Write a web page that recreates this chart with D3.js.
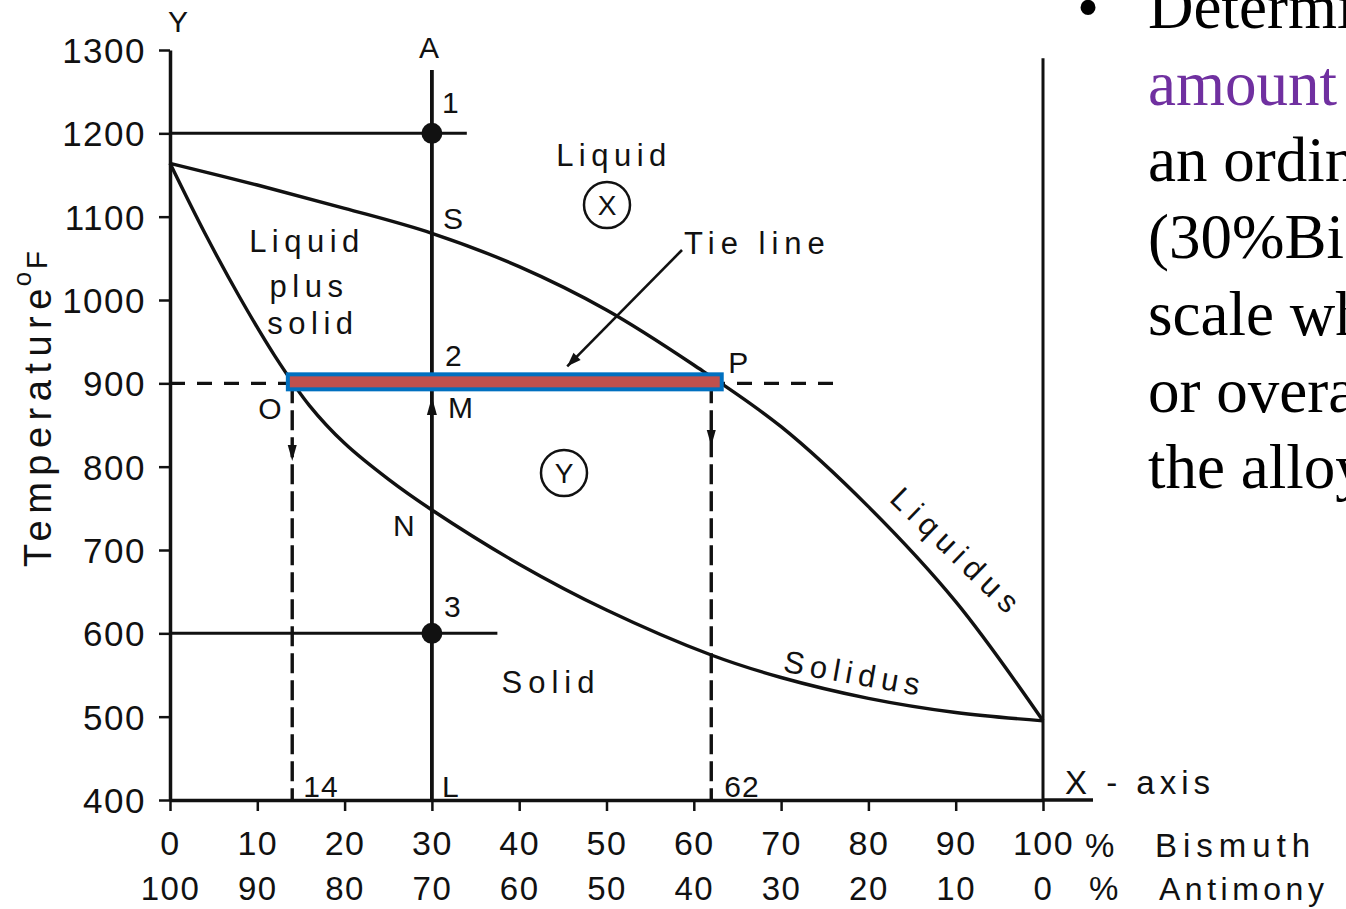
<!DOCTYPE html>
<html>
<head>
<meta charset="utf-8">
<script src="https://cdn.jsdelivr.net/npm/d3@7"></script>
<style>
  html, body { margin: 0; padding: 0; background: #fff; overflow: hidden; }
  svg { display: block; }
  .lbl { font-family: "Liberation Sans", Arial, sans-serif; fill: #111; }
  .side { font-family: "Liberation Serif", "Times New Roman", serif; font-size: 63px; fill: #000; }
</style>
</head>
<body>
<svg id="chart" width="1346" height="909"></svg>
<script>
// ---------------- data ----------------
const pctTicks = [0, 10, 20, 30, 40, 50, 60, 70, 80, 90, 100];
const bismuthLabels = ["0", "10", "20", "30", "40", "50", "60", "70", "80", "90", "100"];
const antimonyLabels = ["100", "90", "80", "70", "60", "50", "40", "30", "20", "10", "0"];
const tempTicks = [400, 500, 600, 700, 800, 900, 1000, 1100, 1200, 1300];

// liquidus curve  [% bismuth, temperature °F]
const liquidus = [[0, 1164], [10, 1138], [20, 1110], [30, 1080], [40, 1040], [50, 988],
                  [60, 922], [70, 848], [80, 752], [90, 638], [100, 495]];
// solidus curve
const solidus = [[0, 1164], [4, 1080], [8, 1003], [12, 933], [16, 873], [20, 828], [25, 785],
                 [30, 748], [40, 683], [50, 628], [62, 574], [70, 547], [80, 522], [90, 505], [100, 495]];

const alloyPct = 30;                 // ordinate A-L
const alloyTop = 1276;               // top of ordinate A
const point1 = [30, 1200];
const point3 = [30, 600];
const isoLine1200 = [[0, 1200], [34, 1200]];
const isoLine600 = [[0, 600], [37.5, 600]];
const tieTemp = 900;
const tieDashed = [[0, 900], [76, 900]];
const compO = 14;                    // solid composition
const compP = 62;                    // liquid composition
const tieHighlight = [13.5, 63.2];   // highlighted tie line extent
const rightEdgeTop = 1290;

const sideLines = ["Determine the", "amount of", "an ordinate", "(30%Bi)", "scale where", "or overall", "the alloy"];

// ---------------- scales ----------------
const svg = d3.select("#chart");
const x = d3.scaleLinear().domain([0, 100]).range([170, 1043]);
const y = d3.scaleLinear().domain([400, 1300]).range([800, 50]);
const ink = "#111";

// ---------------- axes ----------------
const yAxis = d3.axisLeft(y).tickValues(tempTicks).tickSize(11).tickSizeOuter(0).tickPadding(13)
  .tickFormat(d3.format("d"));
const gy = svg.append("g").attr("transform", `translate(${x(0)},0)`).call(yAxis);
gy.select(".domain").attr("stroke", ink).attr("stroke-width", 3.5);
gy.selectAll(".tick line").attr("stroke", ink).attr("stroke-width", 2.5);
gy.selectAll(".tick text").attr("class", "lbl").attr("font-size", 35).attr("letter-spacing", 1.5)
  .attr("fill", ink).attr("dy", "0.36em");

const xAxis = d3.axisBottom(x).tickValues(pctTicks).tickSize(11).tickSizeOuter(0)
  .tickFormat((d, i) => bismuthLabels[i]).tickPadding(20);
const gx = svg.append("g").attr("transform", `translate(0,${y(400)})`).call(xAxis);
gx.select(".domain").attr("stroke", ink).attr("stroke-width", 3.5);
gx.selectAll(".tick line").attr("stroke", ink).attr("stroke-width", 2.5);
gx.selectAll(".tick text").attr("class", "lbl").attr("font-size", 34).attr("letter-spacing", 1.5)
  .attr("fill", ink).attr("dy", "0.71em");
// second row: antimony
gx.selectAll(".tick").append("text")
  .attr("class", "lbl").attr("font-size", 33).attr("letter-spacing", 1.5)
  .attr("text-anchor", "middle").attr("y", 100)
  .text((d, i) => antimonyLabels[i]);

// x-axis extension & labels
svg.append("line").attr("x1", x(100)).attr("x2", x(100) + 50).attr("y1", y(400)).attr("y2", y(400))
  .attr("stroke", ink).attr("stroke-width", 3.5);
svg.append("text").attr("class", "lbl").attr("font-size", 33).attr("letter-spacing", 5)
  .attr("x", x(100) + 22).attr("y", y(400) - 6).text("X - axis");
svg.append("text").attr("class", "lbl").attr("font-size", 33)
  .attr("x", x(100) + 42).attr("y", y(400) + 57).text("%");
svg.append("text").attr("class", "lbl").attr("font-size", 33).attr("letter-spacing", 6)
  .attr("x", x(100) + 112).attr("y", y(400) + 57).text("Bismuth");
svg.append("text").attr("class", "lbl").attr("font-size", 33)
  .attr("x", x(100) + 46).attr("y", y(400) + 100).text("%");
svg.append("text").attr("class", "lbl").attr("font-size", 32).attr("letter-spacing", 4.5)
  .attr("x", x(100) + 116).attr("y", y(400) + 100).text("Antimony");
svg.append("text").attr("class", "lbl").attr("font-size", 30)
  .attr("x", x(0) + 8).attr("y", 32).attr("text-anchor", "middle").text("Y");

// y label
const yl = svg.append("text").attr("class", "lbl").attr("font-size", 38).attr("letter-spacing", 6.5)
  .attr("transform", `translate(51,567) rotate(-90)`);
yl.append("tspan").text("Temperature");
yl.append("tspan").attr("font-size", 26).attr("dy", -20).attr("dx", -4).text("o");
yl.append("tspan").attr("font-size", 30).attr("dy", 16).attr("dx", -4).text("F");

// right boundary (100% Bi)
svg.append("line").attr("x1", x(100)).attr("x2", x(100)).attr("y1", y(rightEdgeTop)).attr("y2", y(400))
  .attr("stroke", ink).attr("stroke-width", 3);

// ---------------- reference lines ----------------
const lineGen = d3.line().x(d => x(d[0])).y(d => y(d[1]));
svg.append("path").attr("d", lineGen(isoLine1200)).attr("stroke", ink).attr("stroke-width", 3).attr("fill", "none");
svg.append("path").attr("d", lineGen(isoLine600)).attr("stroke", ink).attr("stroke-width", 3).attr("fill", "none");
svg.append("path").attr("d", lineGen(tieDashed)).attr("stroke", ink).attr("stroke-width", 3.4)
  .attr("stroke-dasharray", "15,12").attr("fill", "none");
[compO, compP].forEach(c => {
  svg.append("path").attr("d", lineGen([[c, tieTemp], [c, 400]])).attr("stroke", ink).attr("stroke-width", 3.4)
    .attr("stroke-dasharray", "20,7").attr("fill", "none");
});

// ordinate A-L
svg.append("path").attr("d", lineGen([[alloyPct, alloyTop], [alloyPct, 400]]))
  .attr("stroke", ink).attr("stroke-width", 3.8).attr("fill", "none");

// ---------------- curves ----------------
const curveGen = d3.line().x(d => x(d[0])).y(d => y(d[1])).curve(d3.curveCatmullRom.alpha(0.5));
svg.append("path").attr("d", curveGen(liquidus)).attr("stroke", ink).attr("stroke-width", 3.4).attr("fill", "none");
svg.append("path").attr("d", curveGen(solidus)).attr("stroke", ink).attr("stroke-width", 3.4).attr("fill", "none");

// ---------------- markers ----------------
[point1, point3].forEach(p => {
  svg.append("circle").attr("cx", x(p[0])).attr("cy", y(p[1])).attr("r", 10.5).attr("fill", ink);
});

function tri(cx, cy, dir, w, h) {
  // dir: 1 = pointing down, -1 = pointing up
  const tipY = cy + dir * h / 2, baseY = cy - dir * h / 2;
  return `M${cx - w / 2},${baseY} L${cx + w / 2},${baseY} L${cx},${tipY} Z`;
}
svg.append("path").attr("d", tri(x(compO), 453, 1, 9, 16)).attr("fill", ink);
svg.append("path").attr("d", tri(x(compP), 438, 1, 9, 16)).attr("fill", ink);
svg.append("path").attr("d", tri(x(alloyPct), 406, -1, 10, 18)).attr("fill", ink);

// tie line pointer with arrowhead
const ptrStart = [682, 250];
const ptrEnd = [x(45.5), y(tieTemp) - 17];
svg.append("line").attr("x1", ptrStart[0]).attr("y1", ptrStart[1]).attr("x2", ptrEnd[0]).attr("y2", ptrEnd[1])
  .attr("stroke", ink).attr("stroke-width", 2.6);
{
  const ang = Math.atan2(ptrEnd[1] - ptrStart[1], ptrEnd[0] - ptrStart[0]);
  const L = 14, W = 5;
  const bx = ptrEnd[0] - L * Math.cos(ang), by = ptrEnd[1] - L * Math.sin(ang);
  const nx = -Math.sin(ang) * W, ny = Math.cos(ang) * W;
  svg.append("path").attr("d", `M${ptrEnd[0]},${ptrEnd[1]} L${bx + nx},${by + ny} L${bx - nx},${by - ny} Z`).attr("fill", ink);
}

// highlighted tie line
svg.append("rect")
  .attr("x", x(tieHighlight[0])).attr("y", y(tieTemp) - 9)
  .attr("width", x(tieHighlight[1]) - x(tieHighlight[0])).attr("height", 15)
  .attr("fill", "#C0504D").attr("stroke", "#0070C0").attr("stroke-width", 4);

// ---------------- text labels ----------------
function label(t, px, py, size, opts = {}) {
  const el = svg.append("text").attr("class", "lbl").attr("font-size", size)
    .attr("letter-spacing", opts.ls ?? 4)
    .attr("text-anchor", opts.anchor || "start")
    .attr("x", px).attr("y", py).text(t);
  if (opts.rotate) el.attr("transform", `rotate(${opts.rotate},${px},${py})`);
  return el;
}
label("A", x(alloyPct) - 3, 58, 30, { anchor: "middle", ls: 0 });
label("1", x(alloyPct) + 10, 113, 30, { ls: 0 });
label("S", x(alloyPct) + 11, 229, 30, { ls: 0 });
label("2", x(alloyPct) + 13, 366, 30, { ls: 0 });
label("M", x(alloyPct) + 16, 418, 30, { ls: 0 });
label("O", x(compO) - 34, 419, 30, { ls: 0 });
label("N", x(alloyPct) - 39, 536, 30, { ls: 0 });
label("3", x(alloyPct) + 12, 617, 30, { ls: 0 });
label("L", x(alloyPct) + 10, 797, 30, { ls: 0 });
label("14", x(compO) + 11, 797, 30, { ls: 1 });
label("62", x(compP) + 13, 797, 30, { ls: 1 });
label("P", x(compP) + 17, 373, 30, { ls: 0 });

label("Liquid", 614, 166, 31, { anchor: "middle", ls: 5.5 });
label("Tie  line", 684, 254, 31, { ls: 6 });
label("Liquid", 307, 252, 31, { anchor: "middle", ls: 5.5 });
label("plus", 309, 297, 31, { anchor: "middle", ls: 5.5 });
label("solid", 313, 334, 31, { anchor: "middle", ls: 5.5 });
label("Solid", 551, 693, 31, { anchor: "middle", ls: 6 });
label("Liquidus", 950, 560, 31, { anchor: "middle", ls: 7, rotate: 44 });
label("Solidus", 853, 684, 31, { anchor: "middle", ls: 6, rotate: 10 });

// circled phase markers
[["X", 607, 205], ["Y", 564, 473]].forEach(([t, cx, cy]) => {
  svg.append("circle").attr("cx", cx).attr("cy", cy).attr("r", 23)
    .attr("fill", "none").attr("stroke", ink).attr("stroke-width", 2.5);
  label(t, cx, cy + 10, 28, { anchor: "middle", ls: 0 });
});

// ---------------- side text ----------------
svg.append("text").attr("class", "side").attr("font-family", "Liberation Sans, Arial, sans-serif")
  .attr("x", 1077).attr("y", 28).text("•");
const side = svg.append("text").attr("class", "side");
sideLines.forEach((t, i) => {
  side.append("tspan").attr("x", 1148).attr("y", 28 + i * 76.7)
    .attr("fill", i === 1 ? "#7030A0" : "#000").text(t);
});
</script>
</body>
</html>
